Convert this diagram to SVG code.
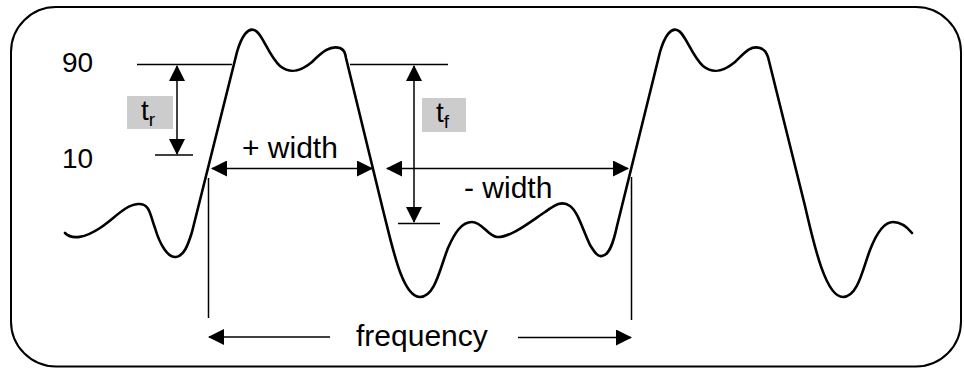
<svg xmlns="http://www.w3.org/2000/svg" width="964" height="368" viewBox="0 0 964 368">
<style>
  .frame{fill:#fff;stroke:#000;stroke-width:2}
  .wave{fill:none;stroke:#000;stroke-width:2.6;stroke-linejoin:round;stroke-linecap:round}
  .thin{fill:none;stroke:#000;stroke-width:1.5}
  .lbl{font-family:"Liberation Sans",Arial,Helvetica,sans-serif;fill:#000}
  .box{fill:#cccccc}
</style>
<defs>
  <marker id="ah" viewBox="0 0 16 16" refX="15" refY="8" markerWidth="16" markerHeight="16" markerUnits="userSpaceOnUse" orient="auto-start-reverse">
    <path d="M0,0 L16,8 L0,16 Z" fill="#000"/>
  </marker>
</defs>
<rect class="frame" x="11" y="7" width="950" height="359.5" rx="45" ry="45"/>

<g id="waveform">
<path class="wave" d="M 65 233 C 72 240, 85 238, 100 228 C 115 218, 125 205, 138 204 C 150 203, 150 215, 155 228 C 160 245, 168 258, 176 257 C 184 256, 188 245, 192 232 L 237 52 C 242 35, 248 28, 254 30 C 262 32, 268 55, 280 66 C 290 74, 300 72, 312 62 C 322 52, 330 45, 340 48 C 344 50, 345 52, 346 58 L 383 210 C 392 245, 402 297, 420 297 C 435 297, 440 268, 448 248 C 455 232, 462 222, 472 222 C 482 222, 488 236, 497 237 C 510 238, 530 222, 545 212 C 555 205, 562 200, 570 206 C 578 212, 582 228, 590 245 C 595 253, 598 257, 602 256 C 610 255, 614 240, 617 226 L 660 52 C 665 35, 671 28, 677 30 C 685 32, 691 55, 703 66 C 713 74, 723 72, 735 62 C 745 52, 751 45, 760 48 C 765 50, 766 52, 768 57 L 805 206 C 813 240, 825 297, 843 297 C 858 297, 863 268, 870 250 C 877 232, 884 222, 893 222 C 902 222, 908 228, 912 233"/>
</g>

<g id="labels">
  <text class="lbl" x="62" y="72" font-size="28">90</text>
  <text class="lbl" x="62" y="168" font-size="28">10</text>
</g>

<g id="tr">
  <rect class="box" x="127" y="96" width="46" height="33"/>
  <text class="lbl" x="141" y="120" font-size="28">t<tspan font-size="19" dy="6">r</tspan></text>
</g>

<g id="tf">
  <rect class="box" x="422" y="98" width="44" height="34"/>
  <text class="lbl" x="436" y="122" font-size="28">t<tspan font-size="19" dy="6">f</tspan></text>
</g>

<g id="plus-width">
  <text class="lbl" x="242" y="158" font-size="30">+ width</text>
</g>
<g id="minus-width">
  <text class="lbl" x="464" y="198" font-size="30">- width</text>
</g>
<g id="frequency">
  <text class="lbl" x="356" y="346" font-size="30">frequency</text>
</g>

<g id="connectors">
  <line class="thin" x1="137" y1="64.5" x2="232" y2="64.5"/>
  <line class="thin" x1="155" y1="155" x2="193" y2="155"/>
  <line class="thin" x1="177" y1="66" x2="177" y2="154" marker-start="url(#ah)" marker-end="url(#ah)"/>
  <line class="thin" x1="350" y1="64.5" x2="448" y2="64.5"/>
  <line class="thin" x1="398" y1="223.5" x2="440" y2="223.5"/>
  <line class="thin" x1="414" y1="66" x2="414" y2="222" marker-start="url(#ah)" marker-end="url(#ah)"/>
  <line class="thin" x1="212" y1="168.5" x2="372" y2="168.5" marker-start="url(#ah)" marker-end="url(#ah)"/>
  <line class="thin" x1="387" y1="168.5" x2="628" y2="168.5" marker-start="url(#ah)" marker-end="url(#ah)"/>
  <line class="thin" x1="208.5" y1="178" x2="208.5" y2="318"/>
  <line class="thin" x1="631.5" y1="177" x2="631.5" y2="320"/>
  <line class="thin" x1="330" y1="337" x2="209" y2="337" marker-end="url(#ah)"/>
  <line class="thin" x1="518" y1="337.5" x2="631" y2="337.5" marker-end="url(#ah)"/>
</g>
</svg>
